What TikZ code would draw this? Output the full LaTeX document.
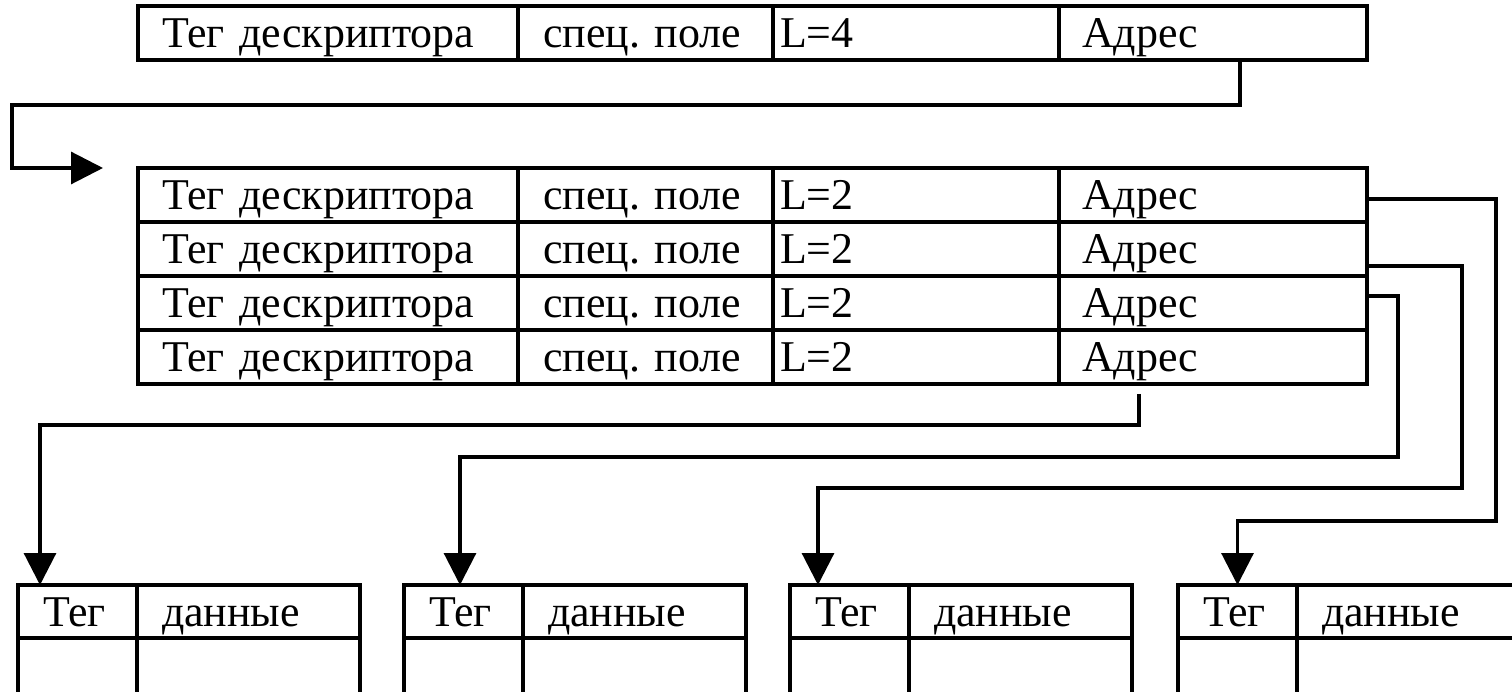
\documentclass[tikz,border=0pt]{standalone}
\usepackage{fontspec}
\setmainfont{Liberation Serif}
\usetikzlibrary{arrows.meta}
\frenchspacing
\hbadness=10000
\hfuzz=100pt

\def\pu{0.02cm}

\begin{document}
\begin{tikzpicture}[x=0.02cm, y=-0.02cm, line width=1.8pt, font=\fontsize{25}{29}\selectfont]
  \useasboundingbox (0,0) rectangle (1512,692);
  \clip (0,0) rectangle (1512,692);

  % Zellen.
  \tikzstyle{cell}=[draw, anchor=north west, outer sep=0pt, inner ysep=0pt, minimum height=54*\pu, align=left, text height=22pt, text depth=5pt]
  \tikzstyle{tagcol}=[cell, inner xsep=24*\pu, text width=332*\pu]
  \tikzstyle{speccol}=[cell, inner xsep=25*\pu, text width=205*\pu]
  \tikzstyle{lencol}=[cell, inner xsep=7*\pu, text width=272*\pu]
  \tikzstyle{addrcol}=[cell, inner xsep=23*\pu, text width=262*\pu]
  \tikzstyle{dtagcol}=[cell, minimum height=53*\pu, inner xsep=25*\pu, text width=69*\pu]
  \tikzstyle{ddatacol}=[cell, minimum height=53*\pu, inner xsep=25*\pu, text width=173*\pu]
  \tikzstyle{link}=[-{Triangle[length=0.64cm, width=0.64cm]}]

  % Deskriptor.
  \node[tagcol] (tag0) at (138,6) {Тег дескриптора};
  \node[speccol] (spec0) at (518,6) {спец.~поле};
  \node[lencol] (len0) at (773,6) {L=4};
  \node[addrcol] (addr0) at (1059,6) {Адрес};

  % Vektor.
  \node[tagcol] (tag1) at (138,168) {Тег дескриптора};
  \node[speccol] (spec1) at (518,168) {спец.~поле};
  \node[lencol] (len1) at (773,168) {L=2};
  \node[addrcol] (addr1) at (1059,168) {Адрес};

  \node[tagcol] (tag2) at (138,222) {Тег дескриптора};
  \node[speccol] (spec2) at (518,222) {спец.~поле};
  \node[lencol] (len2) at (773,222) {L=2};
  \node[addrcol] (addr2) at (1059,222) {Адрес};

  \node[tagcol] (tag3) at (138,276) {Тег дескриптора};
  \node[speccol] (spec3) at (518,276) {спец.~поле};
  \node[lencol] (len3) at (773,276) {L=2};
  \node[addrcol] (addr3) at (1059,276) {Адрес};

  \node[tagcol] (tag4) at (138,330) {Тег дескриптора};
  \node[speccol] (spec4) at (518,330) {спец.~поле};
  \node[lencol] (len4) at (773,330) {L=2};
  \node[addrcol] (addr4) at (1059,330) {Адрес};

  % Daten.
  \node[dtagcol] (dtag1) at (18,585) {Тег};
  \node[ddatacol] (ddata1) at (dtag1.north east) {данные};
  \node[dtagcol, minimum height=60*\pu] (dcell1) at (dtag1.south west) {};
  \node[ddatacol, minimum height=60*\pu] (dval1) at (ddata1.south west) {};

  \node[dtagcol] (dtag2) at (404,585) {Тег};
  \node[ddatacol] (ddata2) at (dtag2.north east) {данные};
  \node[dtagcol, minimum height=60*\pu] (dcell2) at (dtag2.south west) {};
  \node[ddatacol, minimum height=60*\pu] (dval2) at (ddata2.south west) {};

  \node[dtagcol] (dtag3) at (790,585) {Тег};
  \node[ddatacol] (ddata3) at (dtag3.north east) {данные};
  \node[dtagcol, minimum height=60*\pu] (dcell3) at (dtag3.south west) {};
  \node[ddatacol, minimum height=60*\pu] (dval3) at (ddata3.south west) {};

  \node[dtagcol] (dtag4) at (1178,585) {Тег};
  \node[ddatacol] (ddata4) at (dtag4.north east) {данные};
  \node[dtagcol, minimum height=60*\pu] (dcell4) at (dtag4.south west) {};
  \node[ddatacol, minimum height=60*\pu] (dval4) at (ddata4.south west) {};

  % Verweise.
  \draw[link] ([xshift=181*\pu]addr0.south west) -- ++(0,45) -| (12,168) -- ([xshift=-35*\pu]tag1.north west);
  \draw[link] ([yshift=-4*\pu]addr1.east) -| (1496,521) -| (dtag4.north);
  \draw[link] ([yshift=-17*\pu]addr2.east) -| (1462,488) -| ([xshift=28*\pu]dtag3.north west);
  \draw[link] ([yshift=7*\pu]addr3.east) -| (1398,457) -| ([xshift=56*\pu]dtag2.north west);
  \draw[link] ([xshift=80*\pu, yshift=-10*\pu]addr4.south west) -- ++(0,31) -| ([xshift=22*\pu]dtag1.north west);
\end{tikzpicture}
\end{document}
